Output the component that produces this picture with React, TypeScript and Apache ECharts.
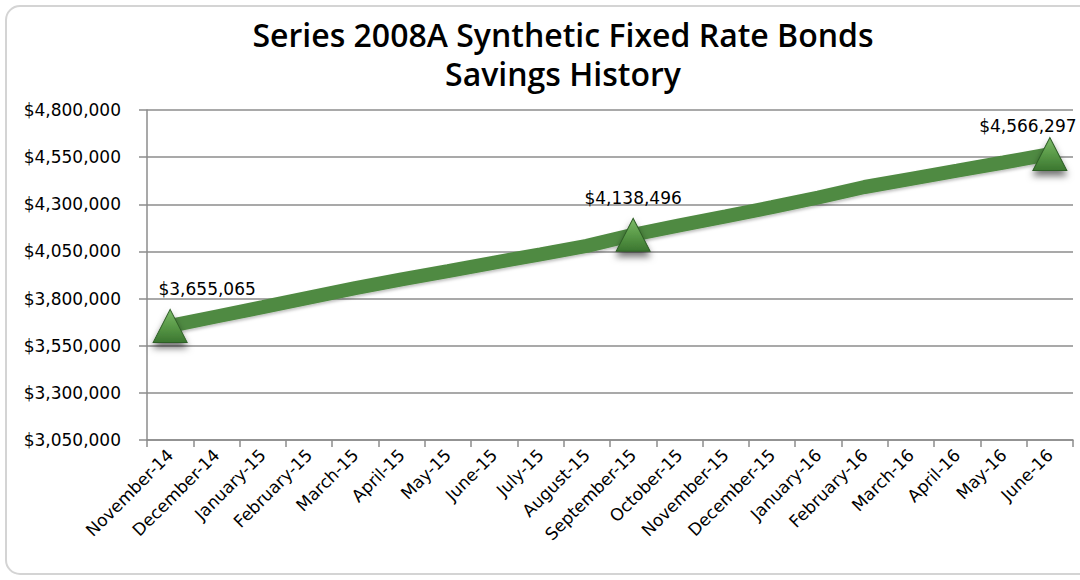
import React, { useEffect, useRef } from "react";
import * as echarts from "echarts";

const TITLE_LINE_1 = "Series 2008A Synthetic Fixed Rate Bonds";
const TITLE_LINE_2 = "Savings History";

const months = [
  "November-14", "December-14", "January-15", "February-15", "March-15",
  "April-15", "May-15", "June-15", "July-15", "August-15", "September-15",
  "October-15", "November-15", "December-15", "January-16", "February-16",
  "March-16", "April-16", "May-16", "June-16",
];

const savings = [
  3655065, 3705000, 3754800, 3805000, 3855000, 3902000, 3946000, 3990700,
  4034800, 4079300, 4138496, 4188000, 4236000, 4284500, 4336000, 4391700,
  4435000, 4478000, 4521600, 4566297,
];

const markedIndices = [0, 10, 19];

const yMin = 3050000;
const yMax = 4800000;
const yStep = 250000;

const money = (v: number) => "$" + Math.round(v).toLocaleString("en-US");

export default function App() {
  const ref = useRef<HTMLDivElement>(null);

  useEffect(() => {
    if (!ref.current) return;
    const chart = echarts.init(ref.current, null, { renderer: "svg" });

    const labelOffsets: Record<number, number[]> = {
      0: [37, 0],
      10: [0, 0],
      19: [-22, 8],
    };

    const data = savings.map((v, i) => {
      const marked = markedIndices.includes(i);
      if (!marked) return { value: v, symbol: "none" };
      return {
        value: v,
        symbol: "triangle",
        symbolSize: [34, 33],
        label: {
          show: true,
          position: "top",
          distance: 11,
          offset: labelOffsets[i] || [0, 0],
          formatter: (p: any) => money(p.value),
          color: "#000",
          fontFamily: "DejaVu Sans",
          fontSize: 17,
        },
      };
    });

    const option: any = {
      animation: false,
      backgroundColor: "#ffffff",
      graphic: [
        {
          type: "rect",
          shape: { x: 6, y: 6, width: 1100, height: 568, r: 14 },
          style: { fill: "none", stroke: "#d4d4d4", lineWidth: 2 },
          silent: true,
          z: -10,
        },
        {
          type: "text",
          x: 563,
          y: 34,
          style: {
            text: TITLE_LINE_1,
            textAlign: "center",
            textVerticalAlign: "middle",
            font: "600 32px 'Open Sans'",
            fill: "#000",
          },
        },
        {
          type: "text",
          x: 563,
          y: 73,
          style: {
            text: TITLE_LINE_2,
            textAlign: "center",
            textVerticalAlign: "middle",
            font: "600 32px 'Open Sans'",
            fill: "#000",
          },
        },
      ],
      grid: { left: 147, right: 7, top: 110, bottom: 140, containLabel: false },
      xAxis: {
        type: "category",
        data: months,
        boundaryGap: true,
        axisLine: { show: true, lineStyle: { color: "#8c8c8c", width: 1.5 } },
        axisTick: { show: true, interval: 0, length: 7, lineStyle: { color: "#8c8c8c", width: 1.5 } },
        axisLabel: {
          interval: 0,
          rotate: 45,
          margin: 12,
          color: "#000",
          fontFamily: "DejaVu Sans",
          fontSize: 17,
        },
        splitLine: { show: false },
      },
      yAxis: {
        type: "value",
        min: yMin,
        max: yMax,
        interval: yStep,
        axisLine: { show: true, lineStyle: { color: "#8c8c8c", width: 1.5 } },
        axisTick: { show: true, length: 8, lineStyle: { color: "#8c8c8c", width: 1.5 } },
        axisLabel: {
          margin: 26,
          color: "#000",
          fontFamily: "DejaVu Sans",
          fontSize: 17,
          formatter: (v: number) => money(v),
        },
        splitLine: { show: true, lineStyle: { color: "#8c8c8c", width: 1.5 } },
      },
      series: [
        {
          type: "line",
          data,
          showSymbol: true,
          showAllSymbol: true,
          lineStyle: {
            color: "#508a42",
            width: 14,
            shadowColor: "rgba(0,0,0,0.25)",
            shadowBlur: 3,
            shadowOffsetY: 2,
          },
          itemStyle: {
            color: new echarts.graphic.LinearGradient(0, 0, 0, 1, [
              { offset: 0, color: "#7dbb69" },
              { offset: 0.5, color: "#5a9a48" },
              { offset: 1, color: "#3b7630" },
            ]),
            borderColor: "#2f5e27",
            borderWidth: 1,
            shadowColor: "rgba(0,0,0,0.55)",
            shadowBlur: 7,
            shadowOffsetY: 5,
          },
          z: 3,
        },
      ],
    };

    chart.setOption(option);
    return () => chart.dispose();
  }, []);

  return (
    <div
      ref={ref}
      style={{ position: "fixed", left: 0, top: 0, width: 1080, height: 580 }}
    />
  );
}
